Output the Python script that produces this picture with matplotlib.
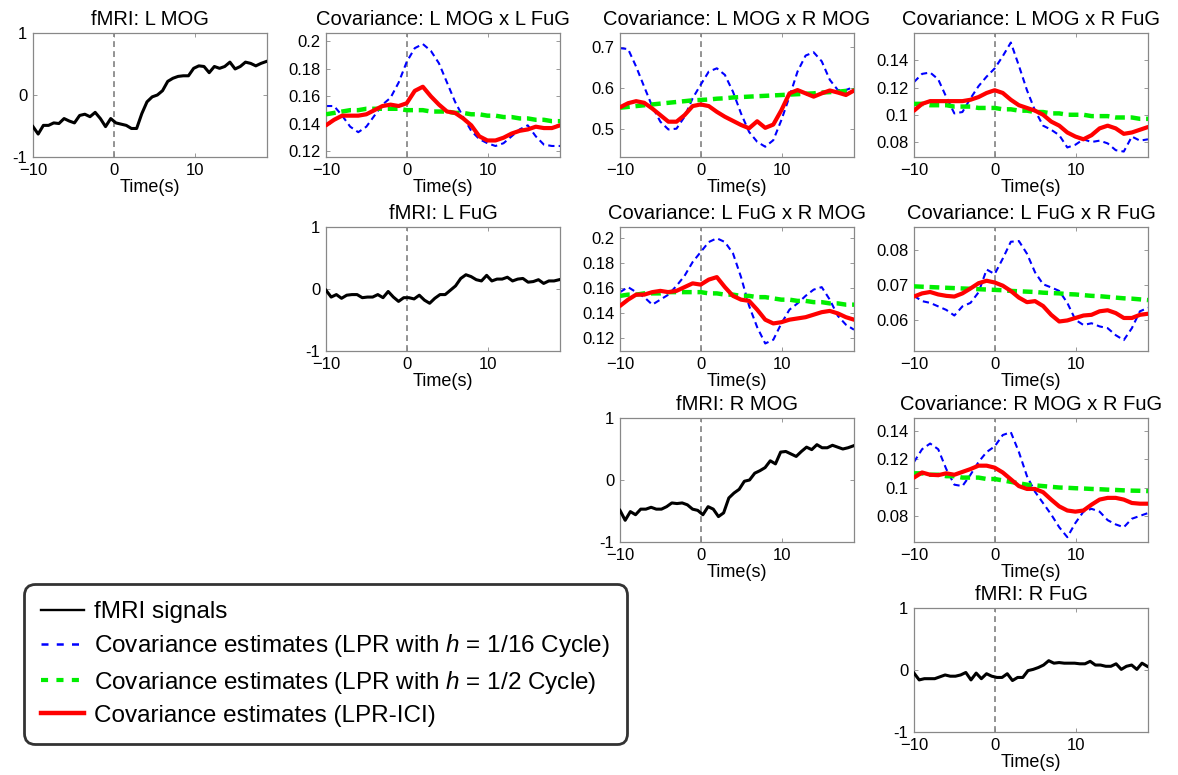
import numpy as np
import matplotlib
matplotlib.use("Agg")
import matplotlib.pyplot as plt
from matplotlib.lines import Line2D
from matplotlib.ticker import FormatStrFormatter

plt.rcParams['font.family'] = ['Liberation Sans', 'DejaVu Sans']
plt.rcParams['mathtext.fontset'] = 'custom'
plt.rcParams['mathtext.it'] = 'Liberation Sans:italic'
plt.rcParams['mathtext.rm'] = 'Liberation Sans'

# sample times (s)
t_fmri = np.linspace(-10, 18.8, 46)
t_cov = np.linspace(-10, 18.9, 30)

# fMRI signals per region
fmri_L_MOG = [-0.51, -0.63, -0.49, -0.49, -0.45, -0.46, -0.38, -0.42, -0.45, -0.33,
              -0.31, -0.35, -0.28, -0.38, -0.51, -0.38, -0.45, -0.47, -0.49, -0.54,
              -0.54, -0.30, -0.11, -0.03, 0.00, 0.07, 0.22, 0.27, 0.30, 0.31,
              0.31, 0.43, 0.47, 0.46, 0.36, 0.46, 0.43, 0.46, 0.53, 0.42,
              0.46, 0.53, 0.51, 0.47, 0.51, 0.54]
fmri_L_FuG = [-0.02, -0.13, -0.09, -0.15, -0.10, -0.09, -0.09, -0.14, -0.13, -0.13,
              -0.09, -0.14, -0.04, -0.13, -0.20, -0.14, -0.14, -0.16, -0.10, -0.18,
              -0.23, -0.15, -0.09, -0.09, -0.02, 0.05, 0.17, 0.23, 0.20, 0.15,
              0.13, 0.22, 0.13, 0.16, 0.16, 0.19, 0.13, 0.16, 0.17, 0.11,
              0.12, 0.15, 0.09, 0.13, 0.13, 0.15]
fmri_R_MOG = [-0.49, -0.65, -0.51, -0.56, -0.47, -0.47, -0.44, -0.47, -0.47, -0.43,
              -0.37, -0.38, -0.37, -0.40, -0.47, -0.49, -0.56, -0.43, -0.47, -0.59,
              -0.53, -0.29, -0.21, -0.15, -0.02, 0.00, 0.11, 0.15, 0.20, 0.31,
              0.26, 0.45, 0.46, 0.42, 0.38, 0.46, 0.53, 0.49, 0.57, 0.52,
              0.52, 0.56, 0.53, 0.50, 0.52, 0.55]
fmri_R_FuG = [-0.05, -0.16, -0.14, -0.14, -0.14, -0.11, -0.08, -0.10, -0.10, -0.08,
              -0.04, -0.16, -0.05, -0.14, -0.06, -0.10, -0.12, -0.12, -0.06, -0.17,
              -0.12, -0.12, -0.01, 0.01, 0.04, 0.08, 0.15, 0.11, 0.12, 0.11,
              0.11, 0.11, 0.10, 0.10, 0.14, 0.08, 0.08, 0.06, 0.06, 0.10,
              0.01, 0.06, 0.08, 0.01, 0.11, 0.06]

# covariance estimates: h=1/16 cycle (blue), h=1/2 cycle (green), LPR-ICI (red)
cov_LMOG_LFuG_h16 = [0.153, 0.153, 0.146, 0.138, 0.134, 0.138, 0.146, 0.154, 0.159, 0.170,
                     0.185, 0.195, 0.198, 0.193, 0.184, 0.170, 0.156, 0.145, 0.135, 0.129,
                     0.126, 0.124, 0.126, 0.131, 0.136, 0.139, 0.131, 0.125, 0.124, 0.124]
cov_LMOG_LFuG_h2 = [0.147, 0.148, 0.149, 0.150, 0.150, 0.151, 0.151, 0.151, 0.151, 0.151,
                    0.150, 0.150, 0.150, 0.149, 0.149, 0.149, 0.148, 0.148, 0.147, 0.147,
                    0.146, 0.146, 0.145, 0.145, 0.144, 0.144, 0.143, 0.143, 0.142, 0.142]
cov_LMOG_LFuG_ici = [0.139, 0.143, 0.146, 0.146, 0.146, 0.147, 0.150, 0.153, 0.154, 0.153,
                     0.155, 0.164, 0.167, 0.160, 0.154, 0.149, 0.148, 0.144, 0.139, 0.131,
                     0.128, 0.128, 0.130, 0.133, 0.135, 0.136, 0.138, 0.137, 0.137, 0.139]

cov_LMOG_RMOG_h16 = [0.698, 0.696, 0.653, 0.604, 0.556, 0.519, 0.500, 0.502, 0.531, 0.576,
                     0.609, 0.641, 0.649, 0.633, 0.592, 0.539, 0.494, 0.470, 0.458, 0.474,
                     0.523, 0.580, 0.641, 0.680, 0.688, 0.666, 0.621, 0.596, 0.596, 0.604]
cov_LMOG_RMOG_h2 = [0.553, 0.555, 0.557, 0.559, 0.561, 0.563, 0.565, 0.567, 0.569, 0.571,
                    0.572, 0.573, 0.575, 0.576, 0.578, 0.579, 0.580, 0.581, 0.582, 0.583,
                    0.584, 0.585, 0.586, 0.587, 0.588, 0.590, 0.591, 0.592, 0.594, 0.596]
cov_LMOG_RMOG_ici = [0.554, 0.564, 0.569, 0.565, 0.551, 0.535, 0.519, 0.519, 0.535, 0.557,
                     0.561, 0.557, 0.543, 0.531, 0.521, 0.511, 0.503, 0.520, 0.504, 0.512,
                     0.547, 0.588, 0.596, 0.588, 0.580, 0.588, 0.595, 0.590, 0.584, 0.595]

cov_LMOG_RFuG_h16 = [0.124, 0.130, 0.131, 0.126, 0.113, 0.101, 0.102, 0.112, 0.121, 0.128,
                     0.134, 0.143, 0.153, 0.136, 0.118, 0.103, 0.092, 0.089, 0.085, 0.076,
                     0.078, 0.082, 0.080, 0.081, 0.079, 0.074, 0.073, 0.084, 0.081, 0.082]
cov_LMOG_RFuG_h2 = [0.108, 0.108, 0.107, 0.107, 0.107, 0.106, 0.106, 0.106, 0.105, 0.105,
                    0.105, 0.104, 0.104, 0.103, 0.103, 0.102, 0.102, 0.101, 0.101, 0.100,
                    0.100, 0.100, 0.099, 0.099, 0.099, 0.098, 0.098, 0.098, 0.097, 0.097]
cov_LMOG_RFuG_ici = [0.103, 0.108, 0.110, 0.110, 0.110, 0.110, 0.110, 0.111, 0.113, 0.116,
                     0.118, 0.116, 0.111, 0.107, 0.105, 0.103, 0.100, 0.095, 0.092, 0.087,
                     0.084, 0.082, 0.085, 0.090, 0.092, 0.090, 0.086, 0.087, 0.089, 0.091]

cov_LFuG_RMOG_h16 = [0.157, 0.161, 0.157, 0.153, 0.147, 0.151, 0.155, 0.162, 0.170, 0.181,
                     0.189, 0.197, 0.200, 0.197, 0.188, 0.169, 0.146, 0.129, 0.116, 0.119,
                     0.132, 0.143, 0.148, 0.154, 0.159, 0.161, 0.151, 0.138, 0.131, 0.127]
cov_LFuG_RMOG_h2 = [0.154, 0.155, 0.155, 0.156, 0.156, 0.156, 0.157, 0.157, 0.157, 0.157,
                    0.157, 0.156, 0.156, 0.155, 0.155, 0.154, 0.154, 0.153, 0.153, 0.152,
                    0.151, 0.151, 0.150, 0.150, 0.149, 0.149, 0.148, 0.148, 0.147, 0.147]
cov_LFuG_RMOG_ici = [0.146, 0.151, 0.155, 0.155, 0.157, 0.158, 0.157, 0.158, 0.161, 0.164,
                     0.163, 0.167, 0.169, 0.161, 0.154, 0.151, 0.150, 0.143, 0.135, 0.132,
                     0.133, 0.135, 0.136, 0.137, 0.139, 0.141, 0.142, 0.140, 0.137, 0.135]

cov_LFuG_RFuG_h16 = [0.0670, 0.0655, 0.0650, 0.0640, 0.0630, 0.0614, 0.0640, 0.0650, 0.0680, 0.0745,
                     0.0732, 0.0776, 0.0824, 0.0826, 0.0790, 0.0737, 0.0703, 0.0694, 0.0684, 0.0650,
                     0.0602, 0.0587, 0.0592, 0.0583, 0.0578, 0.0558, 0.0544, 0.0578, 0.0626, 0.0636]
cov_LFuG_RFuG_h2 = [0.0697, 0.0696, 0.0695, 0.0694, 0.0693, 0.0692, 0.0691, 0.0690, 0.0689, 0.0688,
                    0.0687, 0.0686, 0.0684, 0.0683, 0.0682, 0.0681, 0.0679, 0.0678, 0.0677, 0.0675,
                    0.0674, 0.0672, 0.0670, 0.0669, 0.0667, 0.0665, 0.0663, 0.0662, 0.0660, 0.0658]
cov_LFuG_RFuG_ici = [0.0668, 0.0677, 0.0681, 0.0674, 0.0670, 0.0668, 0.0677, 0.0691, 0.0706, 0.0713,
                     0.0708, 0.0699, 0.0684, 0.0665, 0.0652, 0.0655, 0.0641, 0.0616, 0.0597, 0.0600,
                     0.0607, 0.0614, 0.0616, 0.0626, 0.0629, 0.0621, 0.0607, 0.0607, 0.0616, 0.0619]

cov_RMOG_RFuG_h16 = [0.118, 0.127, 0.131, 0.127, 0.113, 0.102, 0.101, 0.109, 0.118, 0.125,
                     0.129, 0.137, 0.139, 0.125, 0.108, 0.097, 0.089, 0.081, 0.072, 0.065,
                     0.075, 0.083, 0.085, 0.083, 0.077, 0.074, 0.072, 0.078, 0.080, 0.082]
cov_RMOG_RFuG_h2 = [0.110, 0.110, 0.109, 0.109, 0.108, 0.108, 0.107, 0.107, 0.107, 0.106,
                    0.106, 0.105, 0.104, 0.103, 0.102, 0.1015, 0.101, 0.1005, 0.100, 0.0998,
                    0.0995, 0.0993, 0.099, 0.0988, 0.0985, 0.0983, 0.098, 0.0978, 0.0977, 0.0975]
cov_RMOG_RFuG_ici = [0.107, 0.1106, 0.109, 0.1087, 0.110, 0.109, 0.111, 0.113, 0.1154, 0.1154,
                     0.114, 0.1106, 0.1058, 0.101, 0.099, 0.099, 0.0967, 0.0915, 0.0867, 0.0838,
                     0.083, 0.0838, 0.0879, 0.0915, 0.0927, 0.0927, 0.0915, 0.0891, 0.0886, 0.0886]

W, H = 1178, 775
col_left = [33, 326, 620, 914]
row_top = [33, 227, 418, 608]
ax_w, ax_h = 234, 124

fig = plt.figure(figsize=(W / 100, H / 100), dpi=100)


def make_axes(row, col):
    ax = fig.add_axes([col_left[col] / W, 1 - (row_top[row] + ax_h) / H, ax_w / W, ax_h / H])
    ax.set_xlim(-10, 18.9)
    ax.set_xticks([-10, 0, 10])
    ax.axvline(0, color='#808080', lw=1.2, dashes=(3.5, 2.5), zorder=1)
    ax.tick_params(direction='in', length=3, width=0.6, color='#888888',
                   top=True, right=True, labelsize=12, pad=4)
    for s in ax.spines.values():
        s.set_color('#888888')
        s.set_linewidth(0.9)
    ax.set_xlabel('Time(s)', fontsize=13, labelpad=1)
    ax.yaxis.set_major_formatter(FormatStrFormatter('%g'))
    return ax


def fmri_panel(row, col, name, values):
    ax = make_axes(row, col)
    ax.plot(t_fmri, values, color='black', lw=2.2, zorder=3)
    ax.set_ylim(-1, 1)
    ax.set_yticks([-1, 0, 1])
    ax.set_title('fMRI: ' + name, fontsize=14.5, pad=6)


def cov_panel(row, col, name, h16, h2, ici, ylim, yticks):
    ax = make_axes(row, col)
    ax.plot(t_cov, h16, color='#0000ff', lw=1.5, dashes=(3, 2), zorder=2)
    ax.plot(t_cov, h2, color='#00ee00', lw=3.2, dashes=(2.2, 1.3), zorder=3)
    ax.plot(t_cov, ici, color='#ff0000', lw=3.0, zorder=4, solid_capstyle='round')
    ax.set_ylim(*ylim)
    ax.set_yticks(yticks)
    ax.set_title('Covariance: ' + name, fontsize=14.5, pad=6)


fmri_panel(0, 0, 'L MOG', fmri_L_MOG)
fmri_panel(1, 1, 'L FuG', fmri_L_FuG)
fmri_panel(2, 2, 'R MOG', fmri_R_MOG)
fmri_panel(3, 3, 'R FuG', fmri_R_FuG)

cov_panel(0, 1, 'L MOG x L FuG', cov_LMOG_LFuG_h16, cov_LMOG_LFuG_h2, cov_LMOG_LFuG_ici,
          (0.116, 0.206), [0.12, 0.14, 0.16, 0.18, 0.2])
cov_panel(0, 2, 'L MOG x R MOG', cov_LMOG_RMOG_h16, cov_LMOG_RMOG_h2, cov_LMOG_RMOG_ici,
          (0.433, 0.735), [0.5, 0.6, 0.7])
cov_panel(0, 3, 'L MOG x R FuG', cov_LMOG_RFuG_h16, cov_LMOG_RFuG_h2, cov_LMOG_RFuG_ici,
          (0.069, 0.160), [0.08, 0.1, 0.12, 0.14])
cov_panel(1, 2, 'L FuG x R MOG', cov_LFuG_RMOG_h16, cov_LFuG_RMOG_h2, cov_LFuG_RMOG_ici,
          (0.110, 0.209), [0.12, 0.14, 0.16, 0.18, 0.2])
cov_panel(1, 3, 'L FuG x R FuG', cov_LFuG_RFuG_h16, cov_LFuG_RFuG_h2, cov_LFuG_RFuG_ici,
          (0.0513, 0.0866), [0.06, 0.07, 0.08])
cov_panel(2, 3, 'R MOG x R FuG', cov_RMOG_RFuG_h16, cov_RMOG_RFuG_h2, cov_RMOG_RFuG_ici,
          (0.0616, 0.149), [0.08, 0.1, 0.12, 0.14])

# shared legend in the empty lower-left corner
handles = [
    Line2D([], [], color='black', lw=1.7),
    Line2D([], [], color='#0000ff', lw=1.8, dashes=(2.8, 3.3)),
    Line2D([], [], color='#00ee00', lw=3.0, dashes=(1.7, 2.0)),
    Line2D([], [], color='#ff0000', lw=3.2),
]
labels = [
    'fMRI signals',
    'Covariance estimates (LPR with $h$ = 1/16 Cycle)',
    'Covariance estimates (LPR with $h$ = 1/2 Cycle)',
    'Covariance estimates (LPR-ICI)',
]
leg = fig.legend(handles, labels, loc='upper left', bbox_to_anchor=(24 / W, 1 - 584 / H),
                 fontsize=17.5, frameon=True, fancybox=True, borderaxespad=0,
                 handlelength=1.75, handletextpad=0.45, labelspacing=0.38, borderpad=0.7)
frame = leg.get_frame()
frame.set_edgecolor('black')
frame.set_linewidth(2.0)
frame.set_boxstyle('round,pad=0,rounding_size=0.45')

fig.savefig('out.png', dpi=100, facecolor='white')
